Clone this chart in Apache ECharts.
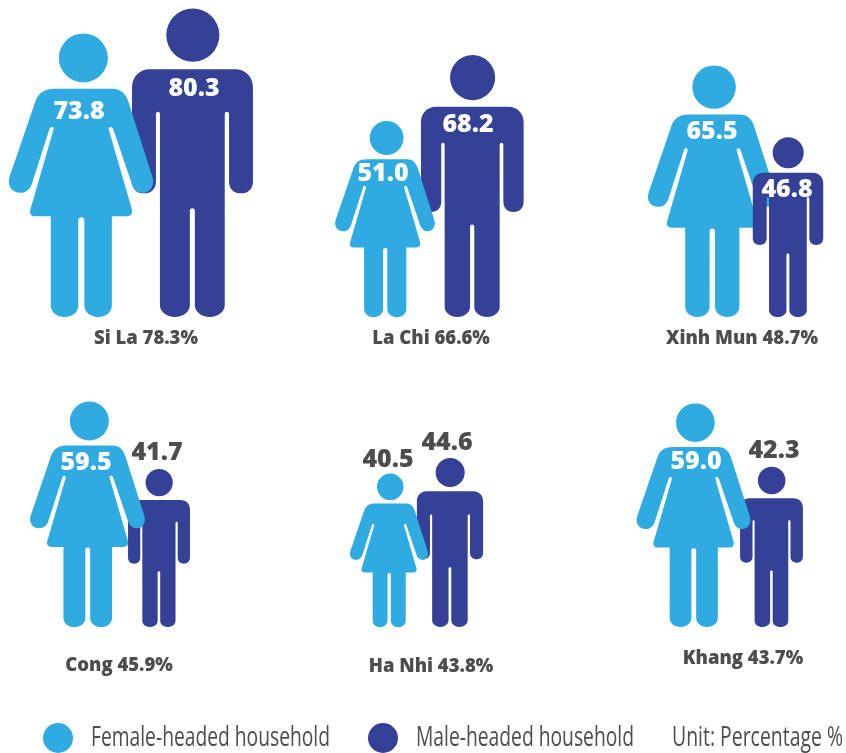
<!DOCTYPE html>
<html>
<head>
<meta charset="utf-8">
<title>Household headship by ethnic group</title>
<script src="https://cdn.jsdelivr.net/npm/echarts@6/dist/echarts.min.js"></script>
<style>
html, body { margin: 0; padding: 0; background: #fff; }
#chart { width: 846px; height: 753px; }
</style>
</head>
<body>
<div id="chart"></div>
<script>
// values
var groups = ['Si La', 'La Chi', 'Xinh Mun', 'Cong', 'Ha Nhi', 'Khang'];
var groupTotals = [78.3, 66.6, 48.7, 45.9, 43.8, 43.7];
var femaleValues = [73.8, 51.0, 65.5, 59.5, 40.5, 59.0];
var maleValues = [80.3, 68.2, 46.8, 41.7, 44.6, 42.3];
var femaleName = 'Female-headed household';
var maleName = 'Male-headed household';
var unitText = 'Unit: Percentage %';

// layout, in page pixels
var femaleX = [81, 385, 712, 87.5, 389, 693.5];
var maleX = [192.5, 472.3, 788, 159, 450, 771.5];
var femaleLabel = [[79, 112, 1], [383, 174, 1], [712, 132, 1], [86, 463, 1], [388, 460, 0], [696, 462, 1]];
var maleLabel = [[194, 89, 1], [468, 125, 1], [787, 190, 1], [157, 453, 0], [447, 443, 0], [774, 451, 0]];
var groupLabel = [[146, 339], [431, 339], [742, 339], [119, 666], [431, 666.5], [743, 659]];

var LIGHT = '#2fabe2';
var DARK = '#354196';
var GREY = '#4d4d4d';
var LEGEND_FONT = '28px "Open Sans"';

var femalePath = 'M174,178a73,73 0 1,0 146,0a73,73 0 1,0 -146,0Z' +
    'M160,270L335,270C358,270 372,285 380,305L452,530C462,560 445,580 425,580C408,580 398,570 392,555L336,390' +
    'C332,380 320,382 323,392L392,630C394,645 385,650 375,650L332,650L332,915C332,935 315,950 291,950' +
    'C268,950 250,935 250,915L250,660C250,650 232,650 232,660L232,915C232,935 215,950 190,950' +
    'C167,950 150,935 150,915L150,650L105,650C92,650 86,642 89,630L158,392C161,382 149,380 146,390' +
    'L93,555C88,570 75,580 60,580C35,580 18,560 28,530L105,305C113,285 130,270 160,270Z';
var malePath = 'M499,102a80,80 0 1,0 160,0a80,80 0 1,0 -160,0Z' +
    'M450,205L706,205C738,205 760,228 760,260L760,542C760,565 745,578 724,578C703,578 688,565 688,542L688,340' +
    'C688,330 675,330 675,340L675,915C675,935 655,950 630,950C605,950 585,935 585,915L585,630' +
    'C585,620 570,620 570,630L570,915C570,935 550,950 525,950C500,950 480,935 480,915L480,340' +
    'C480,330 468,330 468,340L468,542C468,565 453,578 432,578C411,578 396,565 396,542L396,260' +
    'C396,228 418,205 450,205Z';

function figureSeries(name, color, path, ratio, xs, values, labels, from, to, axis) {
    var data = [];
    for (var i = from; i < to; i++) {
        data.push([xs[i], values[i], i]);
    }
    return {
        name: name,
        type: 'custom',
        xAxisIndex: axis,
        yAxisIndex: axis,
        itemStyle: { color: color },
        encode: { x: 0, y: 1 },
        silent: true,
        renderItem: function (params, api) {
            var idx = api.value(2);
            var top = api.coord([api.value(0), api.value(1)]);
            var base = api.coord([api.value(0), 0]);
            var h = base[1] - top[1];
            var w = h * ratio;
            var lab = labels[idx];
            // the man stands in front only in Xinh Mun
            var front = path === malePath ? (idx === 2 ? 2 : 0) : 1;
            return {
                type: 'group',
                children: [{
                    type: 'path',
                    z2: front,
                    shape: { pathData: path, x: top[0] - w / 2, y: top[1], width: w, height: h, layout: 'cover' },
                    style: { fill: color }
                }, {
                    type: 'text',
                    z2: 10,
                    x: lab[0],
                    y: lab[1],
                    style: {
                        text: api.value(1).toFixed(1),
                        fill: lab[2] ? '#fff' : GREY,
                        font: '800 25px "Open Sans"',
                        align: 'center',
                        verticalAlign: 'middle'
                    }
                }]
            };
        },
        data: data
    };
}

// the reference text is condensed, so squeeze it to its measured width
var measureCtx = document.createElement('canvas').getContext('2d');
function squeezedText(text, x, width) {
    measureCtx.font = LEGEND_FONT;
    return {
        type: 'text',
        x: x,
        y: 738,
        scaleX: width / measureCtx.measureText(text).width,
        style: { text: text, fill: GREY, font: LEGEND_FONT, verticalAlign: 'middle' }
    };
}

var graphicItems = groups.map(function (g, i) {
    return {
        type: 'text',
        x: groupLabel[i][0],
        y: groupLabel[i][1],
        style: {
            text: g + ' ' + groupTotals[i].toFixed(1) + '%',
            fill: GREY,
            font: '800 18.5px "Open Sans"',
            align: 'center',
            verticalAlign: 'middle'
        }
    };
});
graphicItems.push(
    { type: 'circle', shape: { cx: 58, cy: 738, r: 15 }, style: { fill: LIGHT } },
    squeezedText(femaleName, 91, 239),
    { type: 'circle', shape: { cx: 383, cy: 738, r: 15 }, style: { fill: DARK } },
    squeezedText(maleName, 416, 218),
    squeezedText(unitText, 672, 171)
);

var myChart = echarts.init(document.getElementById('chart'));
var option = {
    animation: false,
    backgroundColor: '#fff',
    grid: [
        { left: 0, width: 846, top: 2, height: 315 },
        { left: 0, width: 846, top: 399.6, height: 227.4 }
    ],
    xAxis: [
        { type: 'value', gridIndex: 0, min: 0, max: 846, show: false },
        { type: 'value', gridIndex: 1, min: 0, max: 846, show: false }
    ],
    yAxis: [
        { type: 'value', gridIndex: 0, min: 0, max: 82, show: false },
        { type: 'value', gridIndex: 1, min: 0, max: 60, show: false }
    ],
    graphic: graphicItems,
    series: [
        figureSeries(maleName, DARK, malePath, 0.392, maleX, maleValues, maleLabel, 0, 3, 0),
        figureSeries(maleName, DARK, malePath, 0.392, maleX, maleValues, maleLabel, 3, 6, 1),
        figureSeries(femaleName, LIGHT, femalePath, 0.509, femaleX, femaleValues, femaleLabel, 0, 3, 0),
        figureSeries(femaleName, LIGHT, femalePath, 0.509, femaleX, femaleValues, femaleLabel, 3, 6, 1)
    ]
};
myChart.setOption(option);
</script>
</body>
</html>
